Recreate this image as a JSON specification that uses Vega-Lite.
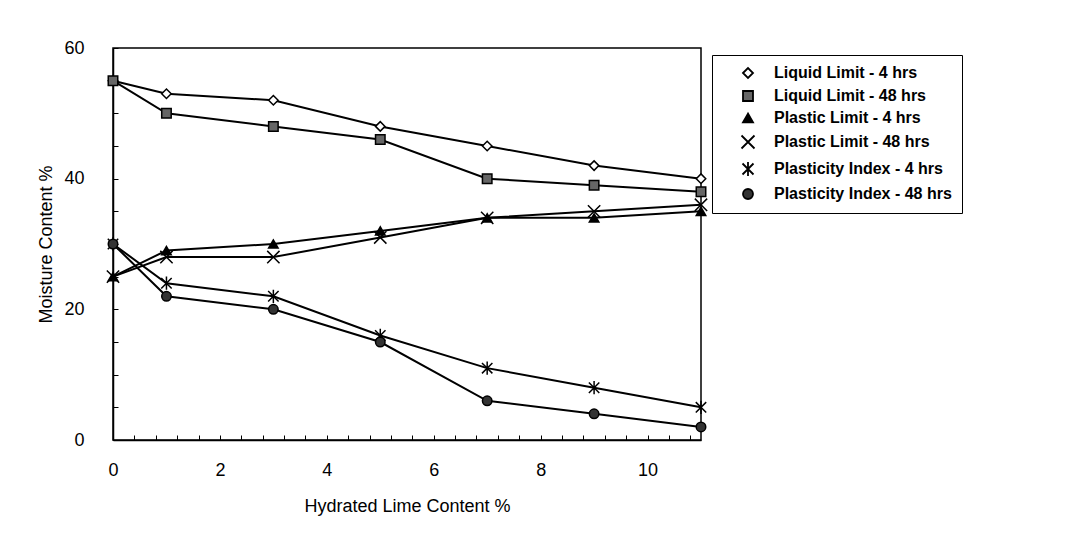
{
  "$schema": "https://vega.github.io/schema/vega-lite/v6.json",
  "autosize": {"type": "none"},
  "padding": {"left": 113, "top": 48, "right": 364, "bottom": 110},
  "width": 588,
  "height": 392,
  "background": "white",
  "config": {
    "view": {"stroke": "black", "strokeWidth": 1.5},
    "font": "Liberation Sans",
    "axis": {"labelFont": "Liberation Sans", "titleFont": "Liberation Sans", "labelColor": "black", "titleColor": "black", "titleFontWeight": "normal", "domainColor": "black", "tickColor": "black", "grid": false},
    "legend": {"title": null, "orient": "none", "legendX": 599, "legendY": 7, "strokeColor": "black", "padding": 10, "symbolSize": 100, "symbolOffset": 18, "symbolStrokeColor": "black", "symbolStrokeWidth": 1.8, "labelFont": "Liberation Sans", "labelFontSize": 16, "labelFontWeight": "bold", "labelColor": "black", "labelOffset": 18, "rowPadding": 5, "labelLimit": 300}
  },
  "data": {"values": [
    {"x": 0, "y": 55, "series": "Liquid Limit - 4 hrs"},
    {"x": 1, "y": 53, "series": "Liquid Limit - 4 hrs"},
    {"x": 3, "y": 52, "series": "Liquid Limit - 4 hrs"},
    {"x": 5, "y": 48, "series": "Liquid Limit - 4 hrs"},
    {"x": 7, "y": 45, "series": "Liquid Limit - 4 hrs"},
    {"x": 9, "y": 42, "series": "Liquid Limit - 4 hrs"},
    {"x": 11, "y": 40, "series": "Liquid Limit - 4 hrs"},
    {"x": 0, "y": 55, "series": "Liquid Limit - 48 hrs"},
    {"x": 1, "y": 50, "series": "Liquid Limit - 48 hrs"},
    {"x": 3, "y": 48, "series": "Liquid Limit - 48 hrs"},
    {"x": 5, "y": 46, "series": "Liquid Limit - 48 hrs"},
    {"x": 7, "y": 40, "series": "Liquid Limit - 48 hrs"},
    {"x": 9, "y": 39, "series": "Liquid Limit - 48 hrs"},
    {"x": 11, "y": 38, "series": "Liquid Limit - 48 hrs"},
    {"x": 0, "y": 25, "series": "Plastic Limit - 4 hrs"},
    {"x": 1, "y": 29, "series": "Plastic Limit - 4 hrs"},
    {"x": 3, "y": 30, "series": "Plastic Limit - 4 hrs"},
    {"x": 5, "y": 32, "series": "Plastic Limit - 4 hrs"},
    {"x": 7, "y": 34, "series": "Plastic Limit - 4 hrs"},
    {"x": 9, "y": 34, "series": "Plastic Limit - 4 hrs"},
    {"x": 11, "y": 35, "series": "Plastic Limit - 4 hrs"},
    {"x": 0, "y": 25, "series": "Plastic Limit - 48 hrs"},
    {"x": 1, "y": 28, "series": "Plastic Limit - 48 hrs"},
    {"x": 3, "y": 28, "series": "Plastic Limit - 48 hrs"},
    {"x": 5, "y": 31, "series": "Plastic Limit - 48 hrs"},
    {"x": 7, "y": 34, "series": "Plastic Limit - 48 hrs"},
    {"x": 9, "y": 35, "series": "Plastic Limit - 48 hrs"},
    {"x": 11, "y": 36, "series": "Plastic Limit - 48 hrs"},
    {"x": 0, "y": 30, "series": "Plasticity Index - 4 hrs"},
    {"x": 1, "y": 24, "series": "Plasticity Index - 4 hrs"},
    {"x": 3, "y": 22, "series": "Plasticity Index - 4 hrs"},
    {"x": 5, "y": 16, "series": "Plasticity Index - 4 hrs"},
    {"x": 7, "y": 11, "series": "Plasticity Index - 4 hrs"},
    {"x": 9, "y": 8, "series": "Plasticity Index - 4 hrs"},
    {"x": 11, "y": 5, "series": "Plasticity Index - 4 hrs"},
    {"x": 0, "y": 30, "series": "Plasticity Index - 48 hrs"},
    {"x": 1, "y": 22, "series": "Plasticity Index - 48 hrs"},
    {"x": 3, "y": 20, "series": "Plasticity Index - 48 hrs"},
    {"x": 5, "y": 15, "series": "Plasticity Index - 48 hrs"},
    {"x": 7, "y": 6, "series": "Plasticity Index - 48 hrs"},
    {"x": 9, "y": 4, "series": "Plasticity Index - 48 hrs"},
    {"x": 11, "y": 2, "series": "Plasticity Index - 48 hrs"}
  ]},
  "encoding": {
    "x": {"field": "x", "type": "quantitative", "scale": {"domain": [0, 11], "nice": false},
      "axis": {"title": "Hydrated Lime Content %", "values": [0,0.4,0.8,1.2,1.6,2,2.4,2.8,3.2,3.6,4,4.4,4.8,5.2,5.6,6,6.4,6.8,7.2,7.6,8,8.4,8.8,9.2,9.6,10,10.4,10.8],
        "labelExpr": "abs(datum.value/2 - round(datum.value/2)) < 0.001 ? format(datum.value, 'd') : ''",
        "tickSize": -5, "labelPadding": 26, "labelFontSize": 18, "titleFontSize": 18, "titlePadding": 18, "domainWidth": 1.5, "labelFlush": false}},
    "y": {"field": "y", "type": "quantitative", "scale": {"domain": [0, 60], "nice": false},
      "axis": {"title": "Moisture Content %", "values": [0,5,10,15,20,25,30,35,40,45,50,55,60],
        "labelExpr": "datum.value % 20 == 0 ? datum.label : ''",
        "tickSize": -5, "labelPadding": 34, "labelFontSize": 18, "titleFontSize": 18, "titlePadding": 8, "domainWidth": 1.5, "labelFlush": false}}
  },
  "layer": [
    {
      "mark": {"type": "line", "strokeWidth": 2, "color": "black"},
      "encoding": {
        "detail": {"field": "series", "type": "nominal"}
      }
    },
    {
      "mark": {"type": "point", "strokeWidth": 1.5, "opacity": 1, "fillOpacity": 1, "strokeOpacity": 1, "size": 90},
      "encoding": {
        "shape": {"field": "series", "type": "nominal",
          "scale": {"domain": ["Liquid Limit - 4 hrs", "Liquid Limit - 48 hrs", "Plastic Limit - 4 hrs", "Plastic Limit - 48 hrs", "Plasticity Index - 4 hrs", "Plasticity Index - 48 hrs"],
            "range": ["diamond", "square", "triangle-up", "M-1.3,-1.3L1.3,1.3M-1.3,1.3L1.3,-1.3", "M-1.1,-1.1L1.1,1.1M-1.1,1.1L1.1,-1.1M0,-1.4L0,1.4", "circle"]}},
        "fill": {"field": "series", "type": "nominal",
          "scale": {"domain": ["Liquid Limit - 4 hrs", "Liquid Limit - 48 hrs", "Plastic Limit - 4 hrs", "Plastic Limit - 48 hrs", "Plasticity Index - 4 hrs", "Plasticity Index - 48 hrs"],
            "range": ["white", "#666666", "black", "black", "black", "#333333"]}},
        "stroke": {"field": "series", "type": "nominal",
          "scale": {"domain": ["Liquid Limit - 4 hrs", "Liquid Limit - 48 hrs", "Plastic Limit - 4 hrs", "Plastic Limit - 48 hrs", "Plasticity Index - 4 hrs", "Plasticity Index - 48 hrs"],
            "range": ["black", "black", "black", "black", "black", "black"]}}
      }
    }
  ]
}
